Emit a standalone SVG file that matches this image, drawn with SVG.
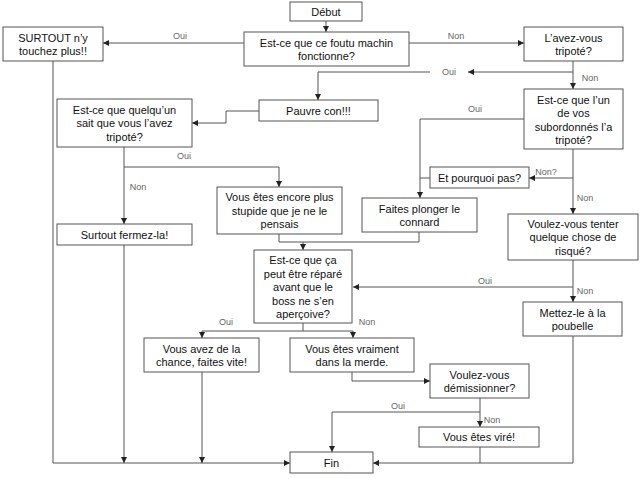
<svg xmlns="http://www.w3.org/2000/svg" width="640" height="479" viewBox="0 0 640 479">
<defs>
<marker id="a" viewBox="0 0 10 10" refX="10" refY="5" markerWidth="6" markerHeight="6" orient="auto" markerUnits="userSpaceOnUse"><path d="M0,0 L10,5 L0,10 z" fill="#222"/></marker>
<style>
.b{fill:#fff;stroke:#555;stroke-width:1}
.t{font-family:"Liberation Sans",Arial,sans-serif;font-size:11px;fill:#111;text-anchor:middle}
.c{fill:none;stroke:#555;stroke-width:1}
.l{font-family:"Liberation Sans",Arial,sans-serif;font-size:9px;fill:#666;text-anchor:middle}
</style>
</defs>
<rect width="640" height="479" fill="#fff"/>
<g id="connectors">
<path class="c" d="M326,21 V32" marker-end="url(#a)"/>
<path class="c" d="M244,43 H103" marker-end="url(#a)"/>
<path class="c" d="M409,43 H524" marker-end="url(#a)"/>
<path class="c" d="M573,61 V89" marker-end="url(#a)"/>
<path class="c" d="M573,72 H468" marker-end="url(#a)"/>
<path class="c" d="M430,72 H318 V100" marker-end="url(#a)"/>
<path class="c" d="M259,111 H226 V123 H192" marker-end="url(#a)"/>
<path class="c" d="M124,147 V224" marker-end="url(#a)"/>
<path class="c" d="M124,167 H279 V187" marker-end="url(#a)"/>
<path class="c" d="M53,61 V463 H290" marker-end="url(#a)"/>
<path class="c" d="M124,245 V463" marker-end="url(#a)"/>
<path class="c" d="M202,372 V463" marker-end="url(#a)"/>
<path class="c" d="M279,234 V242 H303 V250" marker-end="url(#a)"/>
<path class="c" d="M419,232 V242 H303"/>
<path class="c" d="M524,119 H420 V198" marker-end="url(#a)"/>
<path class="c" d="M430,178 H420"/>
<path class="c" d="M573,149 V214" marker-end="url(#a)"/>
<path class="c" d="M573,178 H529" marker-end="url(#a)"/>
<path class="c" d="M573,260 V302" marker-end="url(#a)"/>
<path class="c" d="M573,287 H353" marker-end="url(#a)"/>
<path class="c" d="M303,323 V331 H202 V338" marker-end="url(#a)"/>
<path class="c" d="M303,331 H353 V338" marker-end="url(#a)"/>
<path class="c" d="M352,372 V381 H430" marker-end="url(#a)"/>
<path class="c" d="M480,398 V427" marker-end="url(#a)"/>
<path class="c" d="M480,412 H332 V452" marker-end="url(#a)"/>
<path class="c" d="M480,447 V463"/>
<path class="c" d="M573,336 V463 H373" marker-end="url(#a)"/>
<text class="l" x="180" y="39">Oui</text>
<text class="l" x="456" y="39">Non</text>
<text class="l" x="590" y="81">Non</text>
<text class="l" x="449" y="75">Oui</text>
<text class="l" x="184" y="159">Oui</text>
<text class="l" x="138" y="190">Non</text>
<text class="l" x="475" y="112">Oui</text>
<text class="l" x="546" y="175">Non?</text>
<text class="l" x="585" y="201">Non</text>
<text class="l" x="485" y="284">Oui</text>
<text class="l" x="585" y="294">Non</text>
<text class="l" x="226" y="325">Oui</text>
<text class="l" x="367" y="325">Non</text>
<text class="l" x="398" y="409">Oui</text>
<text class="l" x="492" y="423">Non</text>
</g>
<g id="debut"><rect class="b" x="290" y="2" width="72" height="19"/><text class="t" x="326" y="15.5">Début</text></g>
<g id="machin"><rect class="b" x="244" y="32" width="165" height="34"/><text class="t" x="326.5" y="46.5">Est-ce que ce foutu machin</text><text class="t" x="326.5" y="60">fonctionne?</text></g>
<g id="surtout"><rect class="b" x="3" y="27" width="100" height="34"/><text class="t" x="53" y="41.5">SURTOUT n’y</text><text class="t" x="53" y="55">touchez plus!!</text></g>
<g id="lavez"><rect class="b" x="524" y="27" width="99" height="34"/><text class="t" x="573.5" y="41.5">L’avez-vous</text><text class="t" x="573.5" y="55">tripoté?</text></g>
<g id="pauvre"><rect class="b" x="259" y="100" width="119" height="21"/><text class="t" x="318.5" y="114.5">Pauvre con!!!</text></g>
<g id="quelquun"><rect class="b" x="57" y="99" width="135" height="48"/><text class="t" x="124.5" y="113.5">Est-ce que quelqu’un</text><text class="t" x="124.5" y="127">sait que vous l’avez</text><text class="t" x="124.5" y="140.5">tripoté?</text></g>
<g id="lun"><rect class="b" x="524" y="89" width="99" height="60"/><text class="t" x="573.5" y="103.5">Est-ce que l’un</text><text class="t" x="573.5" y="117">de vos</text><text class="t" x="573.5" y="130.5">subordonnés l’a</text><text class="t" x="573.5" y="144">tripoté?</text></g>
<g id="pourquoi"><rect class="b" x="430" y="167" width="99" height="21"/><text class="t" x="479.5" y="181.5">Et pourquoi pas?</text></g>
<g id="faites"><rect class="b" x="362" y="198" width="115" height="34"/><text class="t" x="419.5" y="212.5">Faites plonger le</text><text class="t" x="419.5" y="226">connard</text></g>
<g id="encore"><rect class="b" x="217" y="187" width="125" height="47"/><text class="t" x="279.5" y="201">Vous êtes encore plus</text><text class="t" x="279.5" y="214.5">stupide que je ne le</text><text class="t" x="279.5" y="228">pensais</text></g>
<g id="fermez"><rect class="b" x="57" y="224" width="135" height="21"/><text class="t" x="124.5" y="238.5">Surtout fermez-la!</text></g>
<g id="tenter"><rect class="b" x="508" y="214" width="130" height="46"/><text class="t" x="573" y="227.5">Voulez-vous tenter</text><text class="t" x="573" y="241">quelque chose de</text><text class="t" x="573" y="254.5">risqué?</text></g>
<g id="repare"><rect class="b" x="254" y="250" width="98" height="73"/><text class="t" x="303" y="264">Est-ce que ça</text><text class="t" x="303" y="277.5">peut être réparé</text><text class="t" x="303" y="291">avant que le</text><text class="t" x="303" y="304.5">boss ne s’en</text><text class="t" x="303" y="318">aperçoive?</text></g>
<g id="poubelle"><rect class="b" x="523" y="302" width="99" height="34"/><text class="t" x="572.5" y="316.5">Mettez-le à la</text><text class="t" x="572.5" y="330">poubelle</text></g>
<g id="chance"><rect class="b" x="144" y="338" width="115" height="34"/><text class="t" x="201.5" y="352.5">Vous avez de la</text><text class="t" x="201.5" y="366">chance, faites vite!</text></g>
<g id="merde"><rect class="b" x="290" y="338" width="124" height="34"/><text class="t" x="352" y="352.5">Vous êtes vraiment</text><text class="t" x="352" y="366">dans la merde.</text></g>
<g id="demission"><rect class="b" x="430" y="364" width="99" height="34"/><text class="t" x="479.5" y="378.5">Voulez-vous</text><text class="t" x="479.5" y="392">démissionner?</text></g>
<g id="vire"><rect class="b" x="419" y="427" width="120" height="20"/><text class="t" x="479" y="441">Vous êtes viré!</text></g>
<g id="fin"><rect class="b" x="290" y="452" width="83" height="21"/><text class="t" x="331.5" y="466.5">Fin</text></g>
</svg>
